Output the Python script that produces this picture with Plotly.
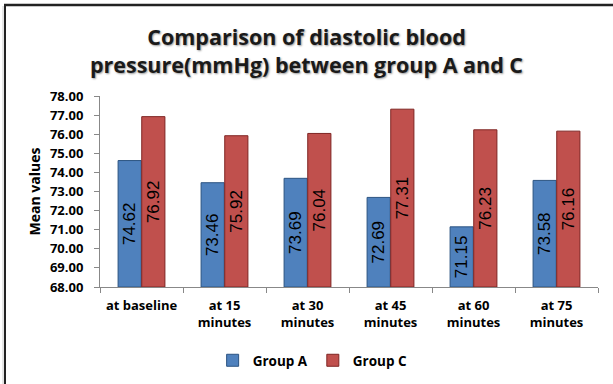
import plotly.graph_objects as go

categories = ["at baseline", "at 15<br>minutes", "at 30<br>minutes", "at 45<br>minutes", "at 60<br>minutes", "at 75<br>minutes"]
group_a = [74.62, 73.46, 73.69, 72.69, 71.15, 73.58]
group_c = [76.92, 75.92, 76.04, 77.31, 76.23, 76.16]
y_ticks = [68, 69, 70, 71, 72, 73, 74, 75, 76, 77, 78]

W, H = 613, 384
L, R, T, B = 100, 15, 96, 97
pw, ph = W - L - R, H - T - B
FONT = "Open Sans, Lato, sans-serif"

fig = go.Figure()
for name, vals, col, edge in [("Group A", group_a, "#4F81BD", "#2C5482"),
                              ("Group C", group_c, "#C0504D", "#7F2523")]:
    fig.add_trace(go.Bar(
        name=name, x=categories, y=[v - 68 for v in vals], base=68,
        marker=dict(color=col, line=dict(color=edge, width=1)),
        text=[f"{v:.2f}" for v in vals], textposition="inside",
        insidetextanchor="middle", textangle=-90, constraintext="none",
        textfont=dict(family="Liberation Sans Narrow, Arial Narrow, sans-serif", size=17, color="black"),
        hoverinfo="skip"))

def px_x(x):
    return (x - L) / pw

def px_y(y):
    return (H - B - y) / ph

fig.update_layout(
    width=W, height=H,
    margin=dict(l=L, r=R, t=T, b=B, autoexpand=False),
    paper_bgcolor="white", plot_bgcolor="white",
    barmode="group", bargap=0.43, bargroupgap=0.02,
    uniformtext=dict(minsize=8, mode="show"),
    title=dict(text="Comparison of diastolic blood<br>pressure(mmHg) between group A and C",
               x=0.5, xanchor="center", y=(H - 45) / H, yanchor="top",
               font=dict(family=FONT, size=21.5, color="#1a1a1a",
                         weight="bold", shadow="1px 1px 2px #999")),
    font=dict(family=FONT, size=12, color="black"),
    showlegend=True,
    legend=dict(orientation="h", xref="container", x=0.51, xanchor="center",
                y=-(345 - T - ph) / ph, yanchor="top",
                font=dict(family=FONT, size=13.5, weight="bold"), traceorder="normal"),
    xaxis=dict(type="category", showline=True, linecolor="#888", linewidth=1,
               ticks="outside", tickson="boundaries", ticklen=5, tickcolor="#888",
               showgrid=False, automargin=False, ticklabelstandoff=6,
               tickfont=dict(family=FONT, size=13, weight="bold")),
    yaxis=dict(range=[68, 78], tickvals=y_ticks, ticktext=[f"{v:.2f}" for v in y_ticks],
               showline=True, linecolor="#888", linewidth=1, ticks="outside", ticklen=5,
               tickcolor="#888", showgrid=False, zeroline=False, automargin=False,
               ticklabelstandoff=8,
               tickfont=dict(family=FONT, size=13, weight="bold"),
               title=dict(text="Mean values", font=dict(family=FONT, size=14, weight="bold"), standoff=6)),
    shapes=[
        dict(type="line", xref="paper", yref="paper",
             x0=px_x(4), x1=px_x(W + 5), y0=px_y(5), y1=px_y(5),
             line=dict(color="#222", width=2.5), layer="above"),
        dict(type="line", xref="paper", yref="paper",
             x0=px_x(5), x1=px_x(5), y0=px_y(4), y1=px_y(H + 5),
             line=dict(color="#222", width=2), layer="above"),
        dict(type="line", xref="paper", yref="paper",
             x0=px_x(3), x1=px_x(3), y0=px_y(6), y1=px_y(H + 5),
             line=dict(color="#ccc", width=1), layer="above"),
    ],
)

fig.write_html("out.html", config={"displayModeBar": False},
               post_script="document.body.style.margin='0';document.body.style.overflow='hidden';")
